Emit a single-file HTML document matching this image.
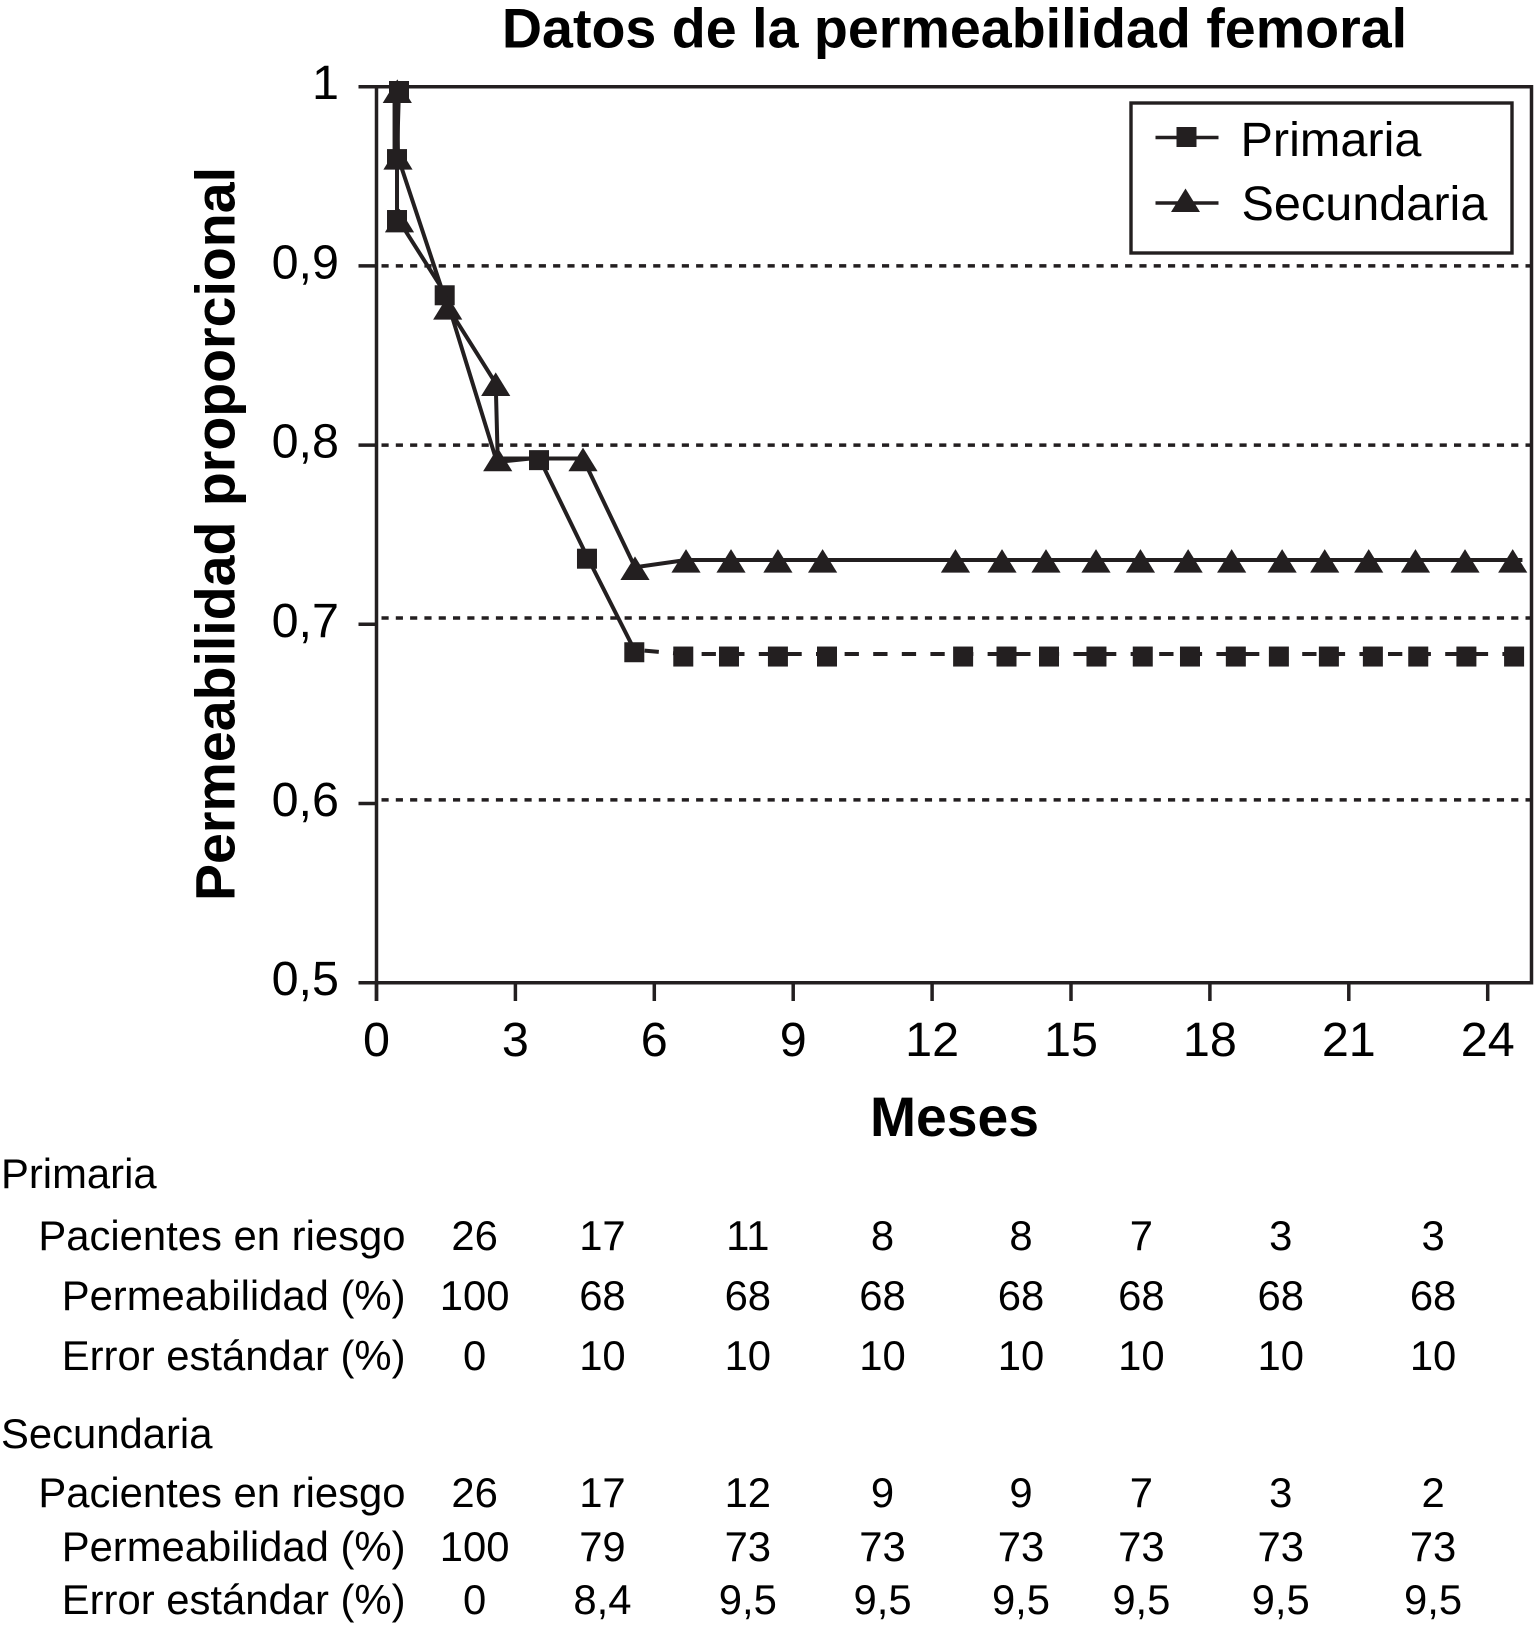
<!DOCTYPE html>
<html lang="es">
<head>
<meta charset="utf-8">
<title>Datos de la permeabilidad femoral</title>
<style>
html,body{margin:0;padding:0;background:#fff;}
svg{display:block;}
text{font-family:"Liberation Sans",Arial,sans-serif;fill:#000;}
.bold{font-weight:700;}
</style>
</head>
<body>
<svg id="chart" xmlns="http://www.w3.org/2000/svg" width="1534" height="1628" viewBox="0 0 1534 1628">
  <rect x="0" y="0" width="1534" height="1628" fill="#fff"/>
  <text class="bold" x="954.5" y="47.5" font-size="55.6" text-anchor="middle">Datos de la permeabilidad femoral</text>
  <text class="bold" font-size="55.5" text-anchor="middle" transform="translate(234.5,534) rotate(-90)">Permeabilidad proporcional</text>
  <text class="bold" x="954.5" y="1136" font-size="55.3" text-anchor="middle">Meses</text>
  <g id="grid"></g>
  <g id="axes"></g>
  <g id="series"></g>
  <g>
    <rect x="1131" y="103" width="381" height="150" fill="#fff" stroke="#231f20" stroke-width="3.4"/>
    <line x1="1155.5" x2="1218.5" y1="137.5" y2="137.5" stroke="#231f20" stroke-width="3.6"/>
    <rect x="1176.5" y="127" width="20" height="20" fill="#231f20"/>
    <text x="1240.5" y="156" font-size="48.6">Primaria</text>
    <line x1="1155.5" x2="1218.5" y1="203" y2="203" stroke="#231f20" stroke-width="3.6"/>
    <polygon points="1185.5,188.5 1200,212 1171,212" fill="#231f20"/>
    <text x="1241.5" y="220" font-size="48.6">Secundaria</text>
  </g>
  <g id="table"></g>
</svg>
<script>
// ---- chart data ----
const xTicks = [0, 3, 6, 9, 12, 15, 18, 21, 24];
const yTicks = [0.5, 0.6, 0.7, 0.8, 0.9, 1];
const yTickLabels = ['0,5', '0,6', '0,7', '0,8', '0,9', '1'];
const gridValues = [0.9, 0.8, 0.7035, 0.602];

const primaryMonths = [0.486, 0.443, 0.443, 1.473, 2.60, 3.51, 4.546, 5.568, 6.626, 7.613, 8.67, 9.73, 12.67, 13.607, 14.525, 15.55, 16.55, 17.57, 18.56, 19.49, 20.57, 21.52, 22.5, 23.54, 24.57];
const primaryValues = [0.999, 0.961, 0.927, 0.885, 0.7906, 0.793, 0.738, 0.6858, 0.6834, 0.6834, 0.6834, 0.6834, 0.6834, 0.6834, 0.6834, 0.6834, 0.6834, 0.6834, 0.6834, 0.6834, 0.6834, 0.6834, 0.6834, 0.6834, 0.6834];
const primaryLineOnlyPoints = [4];
const primaryDashFromPoint = 7;

const secondaryMonths = [0.449, 0.464, 0.497, 1.538, 2.575, 2.618, 4.46, 5.583, 6.685, 7.657, 8.67, 9.635, 12.505, 13.51, 14.46, 15.54, 16.5, 17.53, 18.47, 19.56, 20.48, 21.43, 22.44, 23.51, 24.54];
const secondaryValues = [0.998, 0.9608, 0.9258, 0.8771, 0.8345, 0.7925, 0.7925, 0.7318, 0.7359, 0.7359, 0.7359, 0.7359, 0.7359, 0.7359, 0.7359, 0.7359, 0.7359, 0.7359, 0.7359, 0.7359, 0.7359, 0.7359, 0.7359, 0.7359, 0.7359];
const secondaryMarkerOnlyPoints = [2];
const secondaryLineEndMonth = 24.75;

const initialDropMonths = [0.39, 0.39];
const initialDropValues = [0.998, 0.96];

// ---- table data ----
const tableColumnMonths = [2.12, 4.88, 8.02, 10.93, 13.92, 16.52, 19.53, 22.82];
const primaryRisk = ['26', '17', '11', '8', '8', '7', '3', '3'];
const primaryPatency = ['100', '68', '68', '68', '68', '68', '68', '68'];
const primaryError = ['0', '10', '10', '10', '10', '10', '10', '10'];
const secondaryRisk = ['26', '17', '12', '9', '9', '7', '3', '2'];
const secondaryPatency = ['100', '79', '73', '73', '73', '73', '73', '73'];
const secondaryError = ['0', '8,4', '9,5', '9,5', '9,5', '9,5', '9,5', '9,5'];

// ---- axis functions ----
const INK = '#231f20';
const SVGNS = 'http://www.w3.org/2000/svg';
const plot = {left: 376.5, right: 1531.5, top: 86.7, bottom: 982.7};
function xScale(m) { return plot.left + m * 46.3; }
function yScale(v) { return plot.bottom - (v - 0.5) * 1792; }

function make(tag, parent, attrs, text) {
  const el = document.createElementNS(SVGNS, tag);
  for (const k in attrs) el.setAttribute(k, attrs[k]);
  if (text !== undefined) el.textContent = text;
  parent.appendChild(el);
  return el;
}
function pathFrom(xs, ys) {
  return xs.map((x, i) => (i ? 'L' : 'M') + xScale(x).toFixed(2) + ' ' + yScale(ys[i]).toFixed(2)).join(' ');
}

const grid = document.getElementById('grid');
const axes = document.getElementById('axes');
const series = document.getElementById('series');
const table = document.getElementById('table');

// gridlines
gridValues.forEach(function (v) {
  const el = make('line', grid, {x1: plot.left + 5, x2: plot.right, y1: yScale(v), y2: yScale(v), stroke: INK, 'stroke-width': 3.5, 'stroke-dasharray': '7.15 7.15'});
  
  
});

// frame
const frame = make('path', axes, {d: 'M358.5 ' + plot.top + ' H' + plot.right + ' V' + plot.bottom + ' H358.5 M' + plot.left + ' ' + plot.top + ' V1001', fill: 'none', stroke: INK, 'stroke-width': 3.5});



// y ticks
yTicks.forEach(function (v, i) {
  const tick = make('line', axes, {x1: 358.5, x2: plot.left, y1: yScale(v), y2: yScale(v), stroke: INK, 'stroke-width': 3.5});
  
  
  const label = make('text', axes, {x: 339, y: yScale(v) + 12.5, 'font-size': 48.5, 'text-anchor': 'end'}, yTickLabels[i]);
  
  
});

// x ticks
xTicks.forEach(function (m) {
  const tick = make('line', axes, {x1: xScale(m), x2: xScale(m), y1: plot.bottom, y2: 1001, stroke: INK, 'stroke-width': 3.5});
  
  
  const label = make('text', axes, {x: xScale(m), y: 1056, 'font-size': 48.5, 'text-anchor': 'middle'}, String(m));
  
  
});

// primary line: solid then dashed plateau
const solidX = primaryMonths.slice(0, primaryDashFromPoint + 1);
const solidY = primaryValues.slice(0, primaryDashFromPoint + 1);
const primarySolid = make('path', series, {d: pathFrom(solidX, solidY), fill: 'none', stroke: INK, 'stroke-width': 4, 'stroke-linejoin': 'round'});


const dashX = primaryMonths.slice(primaryDashFromPoint);
const dashY = primaryValues.slice(primaryDashFromPoint);
const primaryDashed = make('path', series, {d: pathFrom(dashX, dashY), fill: 'none', stroke: INK, 'stroke-width': 4, 'stroke-dasharray': '14.3 14.3', 'stroke-dashoffset': -10.3});



// secondary line
const secLineX = secondaryMonths.filter((_, i) => !secondaryMarkerOnlyPoints.includes(i)).concat([secondaryLineEndMonth]);
const secLineY = secondaryValues.filter((_, i) => !secondaryMarkerOnlyPoints.includes(i)).concat([secondaryValues[secondaryValues.length - 1]]);
const secondaryLine = make('path', series, {d: pathFrom(secLineX, secLineY), fill: 'none', stroke: INK, 'stroke-width': 4, 'stroke-linejoin': 'round'});



const initialDrop = make('path', series, {d: pathFrom(initialDropMonths, initialDropValues), fill: 'none', stroke: INK, 'stroke-width': 4});



// primary markers
primaryMonths.forEach(function (m, i) {
  if (primaryLineOnlyPoints.includes(i)) return;
  const px = xScale(m), py = yScale(primaryValues[i]) + 2.5;
  const sq = make('rect', series, {x: px - 10, y: py - 10, width: 20, height: 20, fill: INK});
  
  
});

// secondary markers
secondaryMonths.forEach(function (m, i) {
  const px = xScale(m), py = yScale(secondaryValues[i]);
  const pts = px + ',' + (py - 10.9) + ' ' + (px + 14.6) + ',' + (py + 12.7) + ' ' + (px - 14.6) + ',' + (py + 12.7);
  const tri = make('polygon', series, {points: pts, fill: INK});
  
  
});

// table
function groupLabel(text, y) {
  const el = make('text', table, {x: 1, y: y, 'font-size': 41.8}, text);
  
  
}
function tableRow(label, values, y) {
  const head = make('text', table, {x: 405.5, y: y, 'font-size': 41.8, 'text-anchor': 'end'}, label);
  
  
  values.forEach(function (val, i) {
    const cell = make('text', table, {x: xScale(tableColumnMonths[i]), y: y, 'font-size': 41.8, 'text-anchor': 'middle'}, val);
    
    
  });
}
groupLabel('Primaria', 1188);
tableRow('Pacientes en riesgo', primaryRisk, 1250);
tableRow('Permeabilidad (%)', primaryPatency, 1310);
tableRow('Error estándar (%)', primaryError, 1370);
groupLabel('Secundaria', 1448);
tableRow('Pacientes en riesgo', secondaryRisk, 1507);
tableRow('Permeabilidad (%)', secondaryPatency, 1561);
tableRow('Error estándar (%)', secondaryError, 1614);
</script>
</body>
</html>
